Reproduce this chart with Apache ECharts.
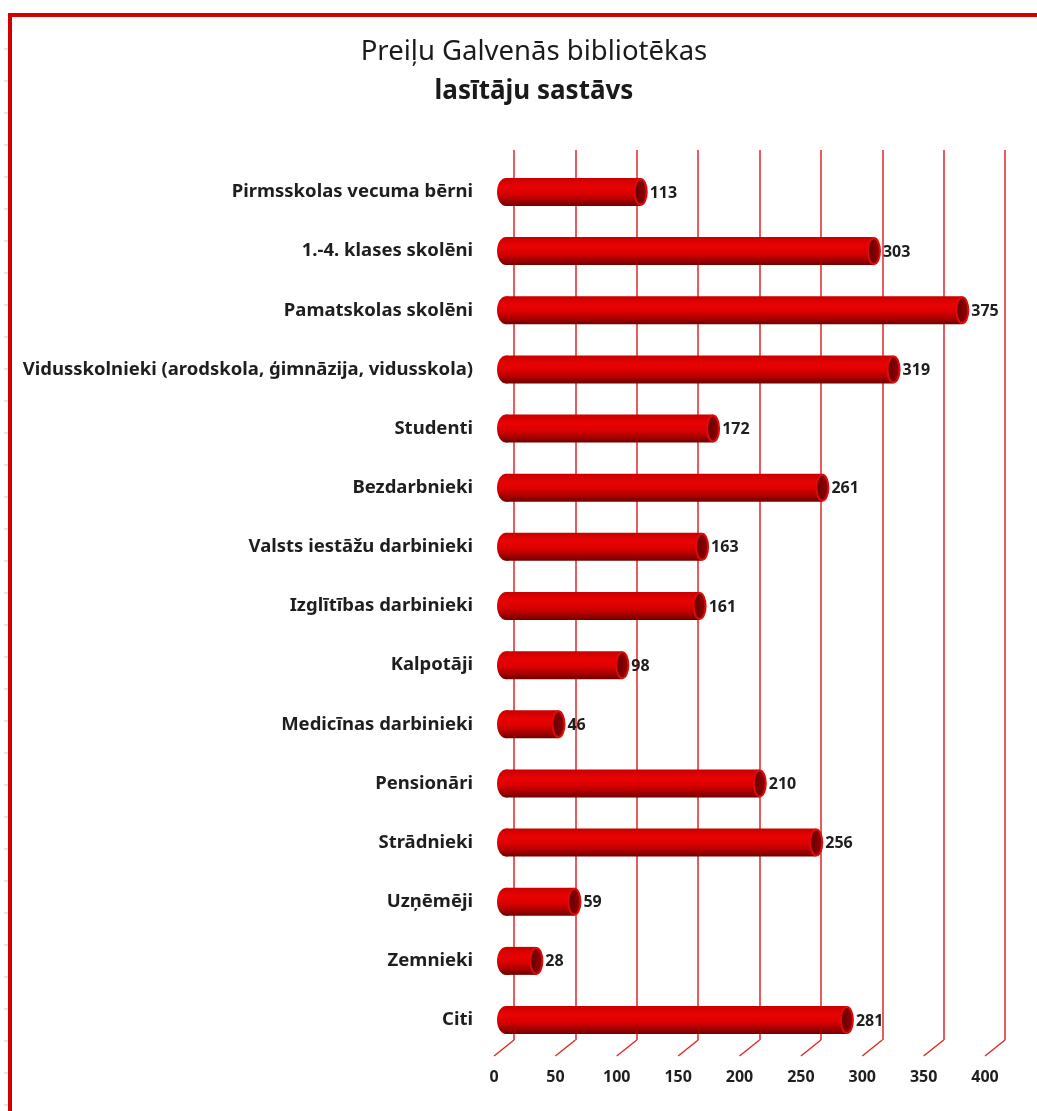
<!DOCTYPE html>
<html>
<head>
<meta charset="utf-8">
<script src="https://cdn.jsdelivr.net/npm/echarts@6/dist/echarts.min.js"></script>
<style>
html,body{margin:0;padding:0;background:#fff;}
#c{width:1037px;height:1111px;}
</style>
</head>
<body>
<div id="c"></div>
<script>
const categories = [
  'Pirmsskolas vecuma bērni',
  '1.-4. klases skolēni',
  'Pamatskolas skolēni',
  'Vidusskolnieki (arodskola, ģimnāzija, vidusskola)',
  'Studenti',
  'Bezdarbnieki',
  'Valsts iestāžu darbinieki',
  'Izglītības darbinieki',
  'Kalpotāji',
  'Medicīnas darbinieki',
  'Pensionāri',
  'Strādnieki',
  'Uzņēmēji',
  'Zemnieki',
  'Citi'
];
const values = [113, 303, 375, 319, 172, 261, 163, 161, 98, 46, 210, 256, 59, 28, 281];
const xTicks = [0, 50, 100, 150, 200, 250, 300, 350, 400];

const FONT = '"Noto Sans", "Open Sans", sans-serif';
const chart = echarts.init(document.getElementById('c'));

const barGrad = new echarts.graphic.LinearGradient(0, 0, 0, 1, [
  {offset: 0, color: '#c80000'},
  {offset: 0.3, color: '#e80303'},
  {offset: 0.55, color: '#dc0000'},
  {offset: 0.8, color: '#a80000'},
  {offset: 1, color: '#6e0000'}
]);
const capGrad = new echarts.graphic.LinearGradient(0, 0, 1, 0, [
  {offset: 0, color: '#5a0000'},
  {offset: 1, color: '#a00000'}
]);

const graphics = [
  {type: 'rect', shape: {x: 8, y: 13, width: 1037, height: 4}, style: {fill: '#d40000'}, silent: true},
  {type: 'rect', shape: {x: 8, y: 13, width: 4, height: 1111}, style: {fill: '#d40000'}, silent: true}
];
for (let y = 49; y < 1111; y += 32) {
  graphics.push({type: 'line', shape: {x1: 4, y1: y, x2: 8, y2: y}, style: {stroke: '#c8c8c8', lineWidth: 1}, silent: true});
}

chart.setOption({
  animation: false,
  backgroundColor: '#ffffff',
  graphic: graphics,
  title: {
    left: 529,
    top: 27,
    textAlign: 'center',
    text: '{a|Preiļu Galvenās bibliotēkas}\n{b|lasītāju sastāvs}',
    textStyle: {
      rich: {
        a: {fontFamily: FONT, fontSize: 27.5, fontWeight: 'normal', color: '#1a1a1a', lineHeight: 40},
        b: {fontFamily: FONT, fontSize: 26, fontWeight: 'bold', color: '#1a1a1a', lineHeight: 40}
      }
    }
  },
  grid: [
    {left: 502, width: 491, top: 162.4, height: 887.2},
    {left: 514, width: 491, top: 150, height: 890}
  ],
  xAxis: [
    {gridIndex: 0, type: 'value', min: 0, max: 400, interval: 50, show: false},
    {gridIndex: 1, type: 'value', min: 0, max: 400, interval: 50,
      axisLine: {show: false}, axisTick: {show: false}, axisLabel: {show: false},
      splitLine: {show: true, lineStyle: {color: '#e42525', width: 1.5}}}
  ],
  yAxis: [
    {gridIndex: 0, type: 'category', data: categories, inverse: true,
      axisLine: {show: false}, axisTick: {show: false}, splitLine: {show: false},
      axisLabel: {margin: 29, fontFamily: FONT, fontSize: 18.5, fontWeight: 'bold', color: '#1e1e1e'}},
    {gridIndex: 1, type: 'value', min: 0, max: 1, show: false}
  ],
  series: [
    {
      type: 'custom',
      xAxisIndex: 1, yAxisIndex: 1,
      clip: false,
      silent: true,
      data: xTicks.map(t => [t, 0]),
      encode: {x: 0, y: 1},
      renderItem: function (params, api) {
        const p = api.coord([api.value(0), 0]);
        return {
          type: 'group',
          children: [
            {type: 'line', shape: {x1: p[0], y1: p[1], x2: p[0] - 20, y2: p[1] + 16},
              style: {stroke: '#e42525', lineWidth: 1.5}},
            {type: 'text', style: {x: p[0] - 20, y: p[1] + 37, text: String(api.value(0)),
              align: 'center', verticalAlign: 'middle', fontFamily: FONT, fontSize: 16,
              fontWeight: 'bold', fill: '#1e1e1e'}}
          ]
        };
      },
      z: 1
    },
    {
      type: 'custom',
      xAxisIndex: 0, yAxisIndex: 0,
      clip: false,
      silent: true,
      data: values.map((v, i) => [v, categories[i]]),
      encode: {x: 0, y: 1},
      renderItem: function (params, api) {
        const v = api.value(0);
        const idx = api.value(1);
        const p0 = api.coord([0, idx]);
        const p1 = api.coord([v, idx]);
        const h = 28;
        const cy = p0[1];
        const xs = p0[0] + 4;
        const xe = p1[0];
        return {
          type: 'group',
          children: [
            {type: 'ellipse', shape: {cx: xs, cy: cy, rx: 9, ry: h / 2}, style: {fill: barGrad}},
            {type: 'rect', shape: {x: xs, y: cy - h / 2, width: Math.max(0, xe - xs), height: h}, style: {fill: barGrad}},
            {type: 'ellipse', shape: {cx: xe, cy: cy, rx: 6, ry: h / 2 - 1},
              style: {fill: capGrad, stroke: '#e00a0a', lineWidth: 2}},
            {type: 'text', style: {x: xe + 9, y: cy + 1, text: String(v), align: 'left', verticalAlign: 'middle',
              fontFamily: FONT, fontSize: 16, fontWeight: 'bold', fill: '#1e1e1e'}}
          ]
        };
      },
      z: 3
    }
  ]
});
</script>
</body>
</html>
